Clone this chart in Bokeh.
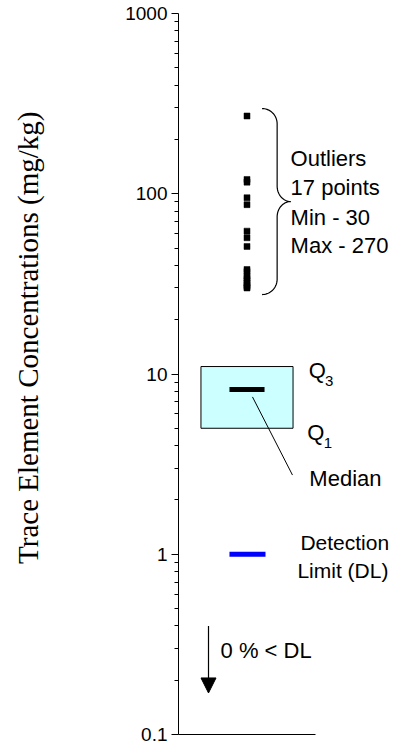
import numpy as np
from bokeh.plotting import figure
from bokeh.models import Range1d, FixedTicker, Label, Arrow, NormalHead
from bokeh.embed import file_html
from bokeh.resources import INLINE

# ---- data ----
outliers = [270, 120, 116, 95, 87, 62, 57, 51, 38, 37, 35, 34, 33, 32, 31, 30.5, 30]
q1 = 5.0
q3 = 11.0
median = 8.2
detection_limit = 1.0
pct_below_dl = 0
major_ticks = [0.1, 1, 10, 100, 1000]
tick_labels = ["0.1", "1", "10", "100", "1000"]
y_title = "Trace Element Concentrations (mg/kg)"

SANS = "Liberation Sans"
SERIF = "Liberation Serif"

FRAME_L, FRAME_T, FRAME_B, W, H = 178, 13, 12, 390, 746
XSPAN = (W - FRAME_L) / 137.0   # one x unit = width of the drawn x-axis

p = figure(width=W, height=H, y_axis_type="log",
           x_range=Range1d(0, XSPAN), y_range=Range1d(0.1, 1000),
           output_backend="svg", toolbar_location=None,
           min_border_left=FRAME_L, min_border_right=0,
           min_border_top=FRAME_T, min_border_bottom=FRAME_B)
p.outline_line_color = None
p.grid.visible = False
p.background_fill_color = "white"
p.border_fill_color = "white"

minor = [m * d for d in [0.1, 1, 10, 100] for m in range(2, 10)]
p.yaxis.ticker = FixedTicker(ticks=major_ticks, minor_ticks=minor)
p.yaxis.major_label_overrides = dict(zip(major_ticks, tick_labels))
p.yaxis.major_tick_in = 0
p.yaxis.major_tick_out = 7
p.yaxis.minor_tick_in = 0
p.yaxis.minor_tick_out = 4
p.yaxis.major_label_standoff = 4
p.yaxis.major_label_text_font = SANS
p.yaxis.major_label_text_font_size = "19px"
p.yaxis.major_label_text_color = "black"
p.yaxis.axis_line_color = "black"
p.yaxis.major_tick_line_color = "black"
p.yaxis.minor_tick_line_color = "black"
p.yaxis.axis_label = "\u00a0" * 10 + y_title
p.yaxis.axis_label_text_font = SERIF
p.yaxis.axis_label_text_font_size = "29px"
p.yaxis.axis_label_text_font_style = "normal"
p.yaxis.axis_label_text_color = "black"
p.yaxis.axis_label_standoff = 78

p.xaxis.ticker = FixedTicker(ticks=[])
p.xaxis.bounds = (0, 1)
p.xaxis.major_tick_line_color = None
p.xaxis.minor_tick_line_color = None
p.xaxis.major_label_text_font_size = "0px"
p.xaxis.axis_line_color = "black"

xc = 0.5
# box
p.quad(left=[xc - 0.336], right=[xc + 0.336], bottom=[q1], top=[q3],
       fill_color="#CCFFFF", line_color="black", line_width=1)
# median bar
p.segment(x0=[xc - 0.128], x1=[xc + 0.128], y0=[median], y1=[median],
          line_color="black", line_width=5)
# detection limit
p.segment(x0=[xc - 0.128], x1=[xc + 0.135], y0=[detection_limit], y1=[detection_limit],
          line_color="#0000FF", line_width=5)
# outliers
p.scatter(x=[xc] * len(outliers), y=outliers, marker="square", size=6,
          fill_color="black", line_color="black", line_width=0.5)

# median leader line
p.line(x=[0.54, 0.832], y=[median * 0.91, 2.75], line_color="black", line_width=1)

# brace around outliers (shape computed in log space)
lt = np.log10(max(outliers) * 1.1)
lb = np.log10(min(outliers) * 0.92)
lm = (lt + lb) / 2
xv, xl, xr = 0.72, 0.61, 0.82
rx1, ry = xv - xl, 0.085
rx2 = xr - xv
th = np.linspace(0, np.pi / 2, 20)
seg1_x = xl + rx1 * np.sin(th)
seg1_y = lt - ry * (1 - np.cos(th))
seg2_x = xv + rx2 * (1 - np.cos(th))
seg2_y = (lm + ry) - ry * np.sin(th)
upper_x = np.concatenate([seg1_x, seg2_x])
upper_y = np.concatenate([seg1_y, seg2_y])
lower_x = upper_x[::-1]
lower_y = 2 * lm - upper_y[::-1]
bx = np.concatenate([upper_x, lower_x])
by = 10 ** np.concatenate([upper_y, lower_y])
p.line(x=bx, y=by, line_color="black", line_width=1.2)

# arrow for % below DL
p.add_layout(Arrow(x_start=0.219, y_start=0.40, x_end=0.219, y_end=0.17,
                   line_color="black", line_width=1.2,
                   end=NormalHead(size=15, fill_color="black", line_color="black")))

def lab(x, y, text, size="22px", **kw):
    p.add_layout(Label(x=x, y=y, text=text, text_font=SANS, text_font_size=size,
                       text_color="black", text_baseline="middle", **kw))

lab(0.818, 156, "Outliers")
lab(0.818, 108, f"{len(outliers)} points")
lab(0.818, 73.6, f"Min - {min(outliers):g}")
lab(0.818, 51.4, f"Max - {max(outliers):g}")
lab(0.95, q3 * 0.955, "Q")
lab(1.07, q3 * 0.83, "3", size="15px")
lab(0.94, q1 * 0.95, "Q")
lab(1.06, q1 * 0.83, "1", size="15px")
lab(0.955, 2.64, "Median")
lab(0.89, 1.166, "Detection", size="21px")
lab(0.868, 0.815, "Limit (DL)", size="21px")
lab(0.307, 0.293, f"{pct_below_dl} % < DL")

open("out.html", "w").write(file_html(p, INLINE))
